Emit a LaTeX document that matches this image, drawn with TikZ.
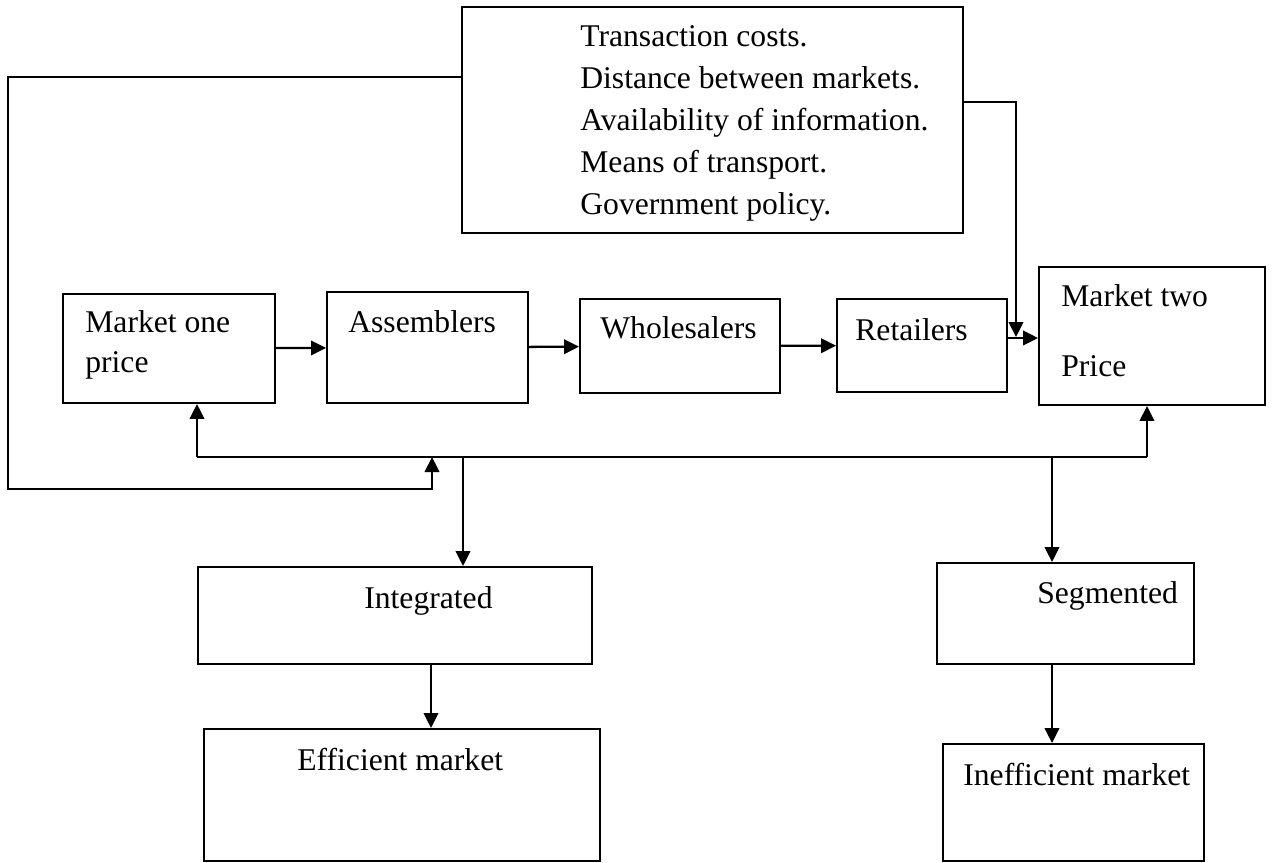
\documentclass[tikz,border=0pt]{standalone}
\usepackage{fontspec}
\setmainfont{Liberation Serif}
\usetikzlibrary{arrows.meta,fit}

\begin{document}
\begin{tikzpicture}[x=0.02cm,y=-0.02cm,
    box/.style={draw,line width=1.1pt,inner sep=0pt},
    txt/.style={anchor=base west,inner sep=0pt,font=\fontsize{18}{22}\selectfont},
    arr/.style={line width=1.3pt,-{Triangle[length=0.3cm,width=0.29cm]}},
    ln/.style={line width=1.3pt}]
  \useasboundingbox (0,0) rectangle (1283,862);
  % boxes
  \node[box,fit={(462,7) (963,233)}] (f) {};
  \node[box,fit={(63,294) (275,403)}] (m1) {};
  \node[box,fit={(327,292) (528,403)}] (as) {};
  \node[box,fit={(580,299) (780,393)}] (wh) {};
  \node[box,fit={(837,299) (1007,392)}] (re) {};
  \node[box,fit={(1039,267) (1265,405)}] (m2) {};
  \node[box,fit={(198,567) (592,664)}] (ig) {};
  \node[box,fit={(937,563) (1194,664)}] (se) {};
  \node[box,fit={(204,729) (600,861)}] (ef) {};
  \node[box,fit={(943,744) (1204,861)}] (ie) {};
  % texts
  \node[txt] (f1) at (580,46) {Transaction costs.};
  \node[txt] (f2) at (580,88) {Distance between markets.};
  \node[txt] (f3) at (580,130) {Availability of information.};
  \node[txt] (f4) at (580,172) {Means of transport.};
  \node[txt] (f5) at (580,214) {Government policy.};
  \node[txt] (m1a) at (85,332) {Market one};
  \node[txt] (m1b) at (85,372) {price};
  \node[txt] (ast) at (348,332) {Assemblers};
  \node[txt] (wht) at (600,338) {Wholesalers};
  \node[txt] (ret) at (855,340) {Retailers};
  \node[txt] (m2a) at (1061,306) {Market two};
  \node[txt] (m2b) at (1061,376) {Price};
  \node[txt] (igt) at (364,608) {Integrated};
  \node[txt] (eft) at (297,770) {Efficient market};
  \node[txt] (set) at (1037,603) {Segmented};
  \node[txt] (iet) at (963,785) {Inefficient market};
  % chain of traders
  \draw[arr] (m1) -- (as);
  \draw[arr] (as) -- (wh);
  \draw[arr] (wh) -- (re);
  \draw[arr] ([yshift=0.15cm]re.east) -- ([yshift=0.15cm]re.east -| m2.west);
  % factors box links
  \coordinate (l1) at (8,77);
  \coordinate (l2) at (8,489);
  \coordinate (l3) at (432,489);
  \coordinate (l4) at (432,457);
  \draw[arr] (f.west |- l1) -- (l1) -- (l2) -- (l3) -- (l4);
  \coordinate (r1) at (1016,102);
  \coordinate (r2) at (1016,337);
  \draw[arr] (f.east |- r1) -- (r1) -- (r2);
  % price line
  \coordinate (b1) at (197,457);
  \coordinate (b2) at (1147,457);
  \coordinate (bi) at (463,457);
  \coordinate (bs) at (1052,457);
  \coordinate (di) at (431,664);
  \draw[ln] (b1) -- (b2);
  \draw[arr] (b1) -- (b1 |- m1.south);
  \draw[arr] (b2) -- (b2 |- m2.south);
  \draw[arr] (bi) -- (bi |- ig.north);
  \draw[arr] (bs) -- (bs |- se.north);
  \draw[arr] (di) -- (di |- ef.north);
  \draw[arr] (bs |- se.south) -- (bs |- ie.north);
\end{tikzpicture}
\end{document}
